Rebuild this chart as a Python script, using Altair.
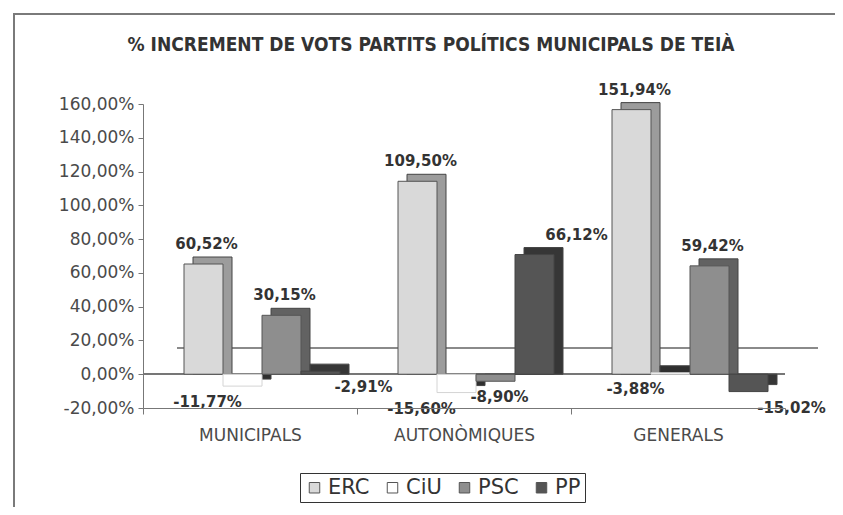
import altair as alt
import pandas as pd

categories = ["MUNICIPALS", "AUTONÒMIQUES", "GENERALS"]
parties = ["ERC", "CiU", "PSC", "PP"]
erc = [60.52, 109.50, 151.94]
ciu = [-11.77, -15.60, -3.88]
psc = [30.15, -8.90, 59.42]
pp = [-2.91, 66.12, -15.02]
y_ticks = [-20, 0, 20, 40, 60, 80, 100, 120, 140, 160]
title = "% INCREMENT DE VOTS PARTITS POLÍTICS MUNICIPALS DE TEIÀ"

front_colors = ["#d9d9d9", "#ffffff", "#8e8e8e", "#555555"]
depth_colors = ["#9c9c9c", "#2f2f2f", "#626262", "#363636"]
stroke_colors = ["#555555", "#d4d4d4", "#555555", "#444444"]

series = [erc, ciu, psc, pp]
rows = []
for j, p in enumerate(parties):
    for i, c in enumerate(categories):
        v = series[j][i]
        rows.append({
            "cat": c, "party": p, "v": v,
            "label": f"{v:.2f}".replace(".", ",") + "%",
            "depth": depth_colors[j], "strk": stroke_colors[j],
        })
df = pd.DataFrame(rows)

W, H = 642, 304
FONT = "DejaVu Sans"
NARROW = "Liberation Sans Narrow, DejaVu Sans Condensed, Arial Narrow, sans-serif"

x_enc = alt.X("cat:N", sort=categories, scale=alt.Scale(paddingInner=0, paddingOuter=0),
              axis=alt.Axis(title=None, labelAngle=0, labelFont=FONT, labelFontSize=17,
                            labelColor="#4a4a4a", tickBand="extent", tickSize=6,
                            tickColor="#777", domainColor="#777", labelPadding=13,
                            zindex=1))


def xo(start, end):
    return alt.XOffset("party:N", sort=parties,
                       scale=alt.Scale(range=[start, end], paddingInner=0, paddingOuter=0))


y_scale = alt.Scale(domain=[-20, 160], nice=False)
y_axis = alt.Axis(title=None, values=y_ticks, grid=False, labelFont=FONT,
                  labelFontSize=17, labelColor="#4a4a4a", tickColor="#777",
                  domainColor="#777", tickSize=5, labelPadding=4, zindex=1,
                  labelOverlap=False,
                  labelExpr="(datum.value < 0 ? '-' : '') + replace(format(abs(datum.value), '.2f'), '.', ',') + '%'")
y_enc = alt.Y("v:Q", scale=y_scale, axis=y_axis)

base = alt.Chart(df)

frame = base.mark_rect(filled=False, stroke="#7a7a7a", strokeWidth=2).encode(
    x=alt.value(-129), x2=alt.value(695), y=alt.value(-90), y2=alt.value(430))

title_mark = alt.Chart(pd.DataFrame({"t": [title]})).mark_text(
    font=NARROW, fontWeight="bold", fontSize=19, color="#333", align="center",
    baseline="middle").encode(x=alt.value(288), y=alt.value(-59), text="t:N")

floor_line = base.mark_rule(color="#8a8a8a", strokeWidth=1.5, yOffset=-26).encode(
    x=alt.value(34), x2=alt.value(675), y=alt.YDatum(0, scale=y_scale, axis=y_axis))

zero_line = base.mark_rule(color="#777", strokeWidth=1.5).encode(
    x=alt.value(0), x2=alt.value(W), y=alt.YDatum(0, scale=y_scale, axis=y_axis))

depth = base.mark_bar(yOffset=-15, stroke="#444", strokeWidth=1).encode(
    x=x_enc, xOffset=xo(50, 206), y=y_enc, y2=alt.datum(0),
    fill=alt.Fill("depth:N", scale=None))

front = base.mark_bar(yOffset=-8, strokeWidth=1).encode(
    x=x_enc, xOffset=xo(41, 197), y=y_enc, y2=alt.datum(0),
    color=alt.Color("party:N", sort=parties,
                    scale=alt.Scale(domain=parties, range=front_colors),
                    legend=alt.Legend(title=None, orient="none", legendX=157, legendY=369,
                                      direction="horizontal", columns=4,
                                      strokeColor="#333", fillColor="white", padding=4,
                                      labelFont=FONT, labelFontSize=21, labelColor="#333",
                                      symbolType="square", symbolSize=110,
                                      symbolStrokeColor="#555", symbolStrokeWidth=1,
                                      columnPadding=12, labelOffset=3)),
    stroke=alt.Stroke("strk:N", scale=None))

pos_labels = base.transform_filter("datum.v >= 0").mark_text(
    font=FONT, fontWeight="bold", fontSize=15, color="#333",
    baseline="bottom", dx=22.5, dy=-20).encode(
    x=x_enc, xOffset=xo(41, 197), y=y_enc, text="label:N")

neg_labels = base.transform_filter("datum.v < 0").mark_text(
    font=FONT, fontWeight="bold", fontSize=15, color="#333",
    baseline="top", dx=23.5, dy=1).encode(
    x=x_enc, xOffset=xo(41, 197), y=y_enc, text="label:N")

chart = alt.layer(frame, title_mark, floor_line, zero_line, depth, front, pos_labels,
                  neg_labels).resolve_scale(
    xOffset="independent"
).properties(
    width=W, height=H, background="white",
    padding={"left": 135, "top": 96, "right": 50, "bottom": 99},
    autosize=alt.AutoSizeParams(type="none"),
).configure_view(stroke=None).configure_axisY(labelOverlap=False)

chart.save("out.html", embed_options={"renderer": "svg", "actions": False})
